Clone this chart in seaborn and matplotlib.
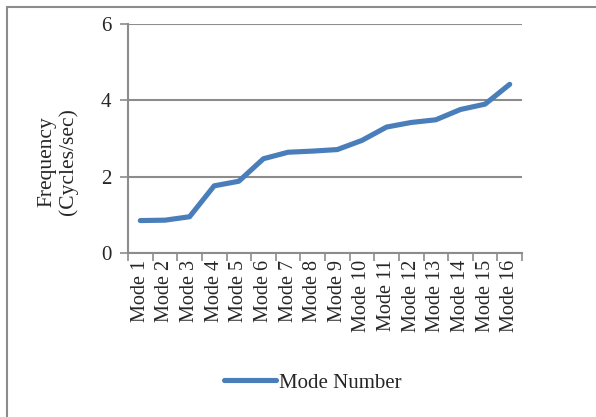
import numpy as np
import pandas as pd
import matplotlib
matplotlib.use('Agg')
import matplotlib.pyplot as plt
import seaborn as sns
from matplotlib.lines import Line2D

# ============================================================
# Data
# ============================================================
modes = [f"Mode {i}" for i in range(1, 17)]
frequency = [0.85, 0.86, 0.95, 1.76, 1.88, 2.47, 2.64, 2.67,
             2.71, 2.95, 3.30, 3.42, 3.49, 3.76, 3.90, 4.42]
y_ticks = [0, 2, 4, 6]

df = pd.DataFrame({'Mode': modes, 'Frequency': frequency})

sns.set_style('white')
plt.rcParams['font.family'] = ['Liberation Serif', 'DejaVu Serif']

LINE_COLOR = '#4A7EBB'
GRID_COLOR = '#8C8C8C'

fig = plt.figure(figsize=(5.96, 4.17), dpi=100)
ax = fig.add_axes([128 / 596, 1 - 253 / 417, 394 / 596, 229 / 417])

sns.lineplot(data=df, x='Mode', y='Frequency', ax=ax, color=LINE_COLOR,
             linewidth=3.7, sort=False, solid_capstyle='round', legend=False)

ax.set_xlim(-0.5, len(modes) - 0.5)
ax.set_ylim(0, 6)
ax.set_yticks(y_ticks)
ax.set_yticklabels([str(t) for t in y_ticks], fontsize=15)
ax.yaxis.grid(True, color=GRID_COLOR, linewidth=1.5)
ax.set_axisbelow(True)

# category labels centred, tick marks between categories
ax.set_xticks(range(len(modes)))
ax.set_xticklabels(modes, rotation=90, fontsize=14.5)
ax.set_xticks(np.arange(-0.5, len(modes)), minor=True)
ax.tick_params(axis='x', which='major', length=0, pad=5)
ax.tick_params(axis='x', which='minor', length=6, width=1.2, color=GRID_COLOR,
               direction='out', bottom=True)
ax.tick_params(axis='y', length=6, width=1.2, color=GRID_COLOR, direction='out',
               left=True, pad=6)

for side in ['top', 'right']:
    ax.spines[side].set_visible(False)
for side in ['left', 'bottom']:
    ax.spines[side].set_color(GRID_COLOR)
    ax.spines[side].set_linewidth(1.5)

ax.set_xlabel('')
ax.set_ylabel('')
fig.text(58 / 596, 1 - 162 / 417, 'Frequency\n(Cycles/sec)', rotation=90,
         ha='center', va='center', fontsize=15.5, linespacing=1.1, multialignment='center')

handle = Line2D([0], [0], color=LINE_COLOR, linewidth=3.7, solid_capstyle='round')
fig.legend([handle], ['Mode Number'], loc='center', bbox_to_anchor=(313 / 596, 1 - 383 / 417),
           frameon=False, fontsize=15, handlelength=2.5, handletextpad=0.15)

# outer chart border (left and top visible)
fig.add_artist(Line2D([7 / 596, 7 / 596], [0, 1 - 7 / 417], color=GRID_COLOR, linewidth=1.5))
fig.add_artist(Line2D([7 / 596, 1], [1 - 7 / 417, 1 - 7 / 417], color=GRID_COLOR, linewidth=1.5))

fig.savefig('out.png', dpi=100)
plt.close(fig)
